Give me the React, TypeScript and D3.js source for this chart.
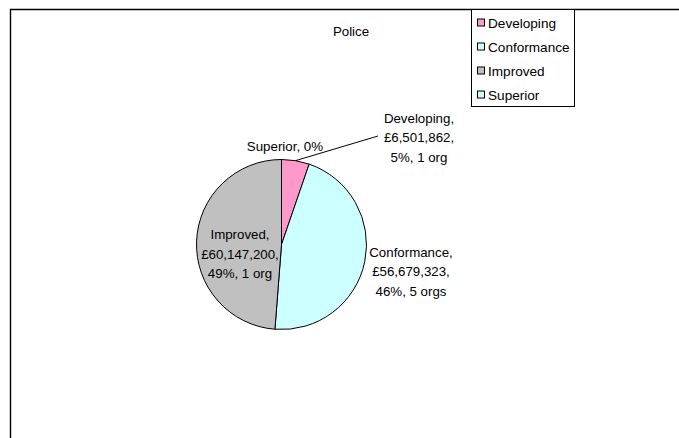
import React from "react";
import * as d3 from "d3";

// Police funding by maturity level
const categories = ["Developing", "Conformance", "Improved", "Superior"];
const amounts = [6501862, 56679323, 60147200, 0];
const percentLabels = ["5%", "46%", "49%", "0%"];
const orgCounts = ["1 org", "5 orgs", "1 org", ""];
const sliceColors = ["#FF99CC", "#CCFFFF", "#C0C0C0", "#CCFFFF"];
const chartTitle = "Police";

const W = 679;
const H = 438;
const FONT = "'Liberation Sans', Arial, sans-serif";
const FS = 13.3;
const LH = 19.6;

export default function App() {
  const cx = 281.5;
  const cy = 244.5;
  const r = 85;

  const pie = d3
    .pie<number>()
    .sort(null)
    .value((d) => d)
    .startAngle(0)
    .endAngle(2 * Math.PI);
  const arcs = pie(amounts);
  const arc = d3.arc<d3.PieArcDatum<number>>().innerRadius(0).outerRadius(r);

  const fmt = d3.format(",");

  // label placement per slice (baseline of first line)
  const labelPos: { x: number; y: number; anchor: string }[] = [
    { x: 419, y: 122.5, anchor: "middle" },
    { x: 411, y: 256.5, anchor: "middle" },
    { x: 240, y: 239, anchor: "middle" },
    { x: 323, y: 150.5, anchor: "end" },
  ];

  const labelLines = categories.map((c, i) =>
    amounts[i] === 0
      ? [`${c}, ${percentLabels[i]}`]
      : [`${c},`, `£${fmt(amounts[i])},`, `${percentLabels[i]}, ${orgCounts[i]}`]
  );

  // leader line for the small Developing slice
  const dev = arcs[0];
  const mid = (dev.startAngle + dev.endAngle) / 2;
  const lx1 = cx + r * Math.sin(mid);
  const ly1 = cy - r * Math.cos(mid);

  return (
    <svg
      width={W}
      height={H}
      style={{ position: "absolute", left: 0, top: 0, background: "#fff" }}
      fontFamily={FONT}
    >
      <rect x={0} y={0} width={W} height={H} fill="#fff" />
      {/* chart frame */}
      <path d={`M10.5,${H} V9.5 H${W}`} fill="none" stroke="#000" strokeWidth={1.4} />

      <text x={351} y={36} fontSize={FS} textAnchor="middle" fill="#000">
        {chartTitle}
      </text>

      <g transform={`translate(${cx},${cy})`}>
        {arcs.map((a, i) =>
          a.value > 0 ? (
            <path key={i} d={arc(a) || ""} fill={sliceColors[i]} stroke="#000" strokeWidth={1} />
          ) : null
        )}
      </g>

      <line x1={lx1} y1={ly1} x2={378} y2={136} stroke="#000" strokeWidth={1} />

      {labelLines.map((lines, i) => (
        <text
          key={i}
          x={labelPos[i].x}
          y={labelPos[i].y}
          fontSize={FS}
          textAnchor={labelPos[i].anchor as any}
          fill="#000"
        >
          {lines.map((l, j) => (
            <tspan key={j} x={labelPos[i].x} dy={j === 0 ? 0 : LH}>
              {l}
            </tspan>
          ))}
        </text>
      ))}

      {/* legend */}
      <rect x={471.5} y={9.5} width={103} height={97} fill="#fff" stroke="#000" strokeWidth={1} />
      {categories.map((c, i) => (
        <g key={c} transform={`translate(477,${22.5 + i * 24})`}>
          <rect x={0.5} y={-3.5} width={7} height={7} fill={sliceColors[i]} stroke="#000" strokeWidth={1} />
          <text x={11} y={5} fontSize={13.6} fill="#000">
            {c}
          </text>
        </g>
      ))}
    </svg>
  );
}
